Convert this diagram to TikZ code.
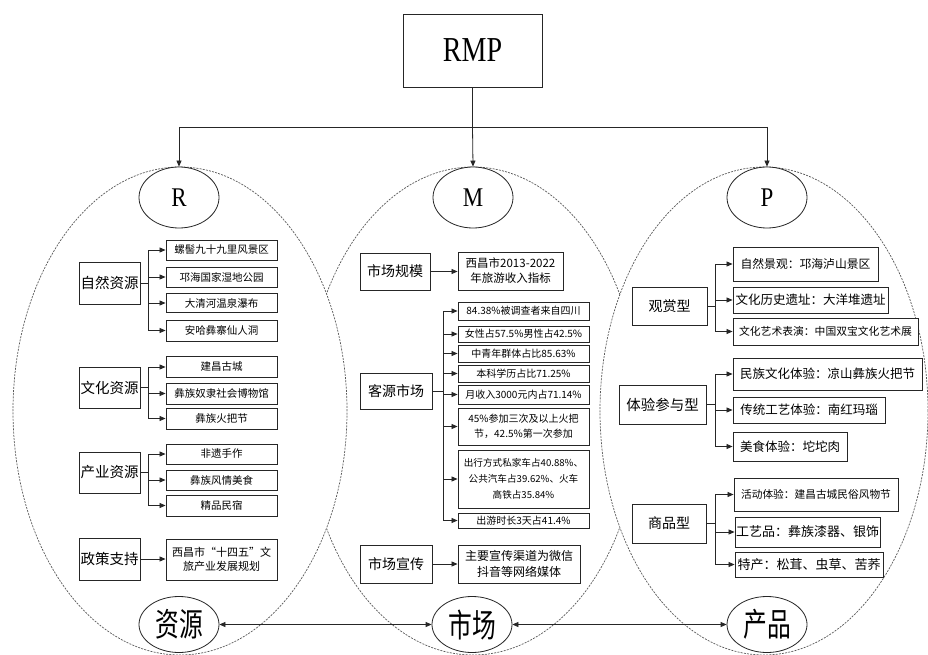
\documentclass[tikz,border=0pt]{standalone}
\usepackage{fontspec}
\setmainfont{Liberation Serif}
\newfontfamily\cjk{Noto Sans CJK SC}
\usetikzlibrary{arrows.meta,shapes.geometric}
\begin{document}
\begin{tikzpicture}[x=1pt,y=-1pt,
  box/.style={draw=black!85, line width=0.9pt, fill=white, inner sep=0pt, align=center},
  mainbox/.style={box, font=\cjk\fontsize{14.5}{16}\selectfont},
  itembox/.style={box, font=\cjk\fontsize{10.5}{13}\selectfont},
  midbox/.style={box, font=\cjk\fontsize{10}{12}\selectfont, minimum width=131pt},
  rbox/.style={box, font=\cjk\fontsize{12.5}{14}\selectfont},
  ln/.style={line width=0.8pt, draw=black!85},
  arr/.style={ln, -{Triangle[length=6pt,width=5pt]}},
  dbl/.style={ln, {Triangle[length=6pt,width=5pt]}-{Triangle[length=6pt,width=5pt]}},
  bigell/.style={draw=black!65, dash pattern=on 2pt off 1.2pt, line width=0.7pt, fill=white},
  oval/.style={draw=black!85, line width=0.8pt, fill=white, ellipse, inner sep=0pt, minimum width=80pt}
]
\useasboundingbox (0,0) rectangle (928,655);
\fill[white] (0,0) rectangle (928,655);

% big dashed ellipses (middle first, then left and right on top)
\draw[bigell] (473,411) ellipse [x radius=167pt, y radius=244pt];
\draw[bigell] (180,411) ellipse [x radius=167pt, y radius=244pt];
\draw[bigell] (764,411) ellipse [x radius=164pt, y radius=244pt];

% top
\node[box, minimum width=139pt, minimum height=73pt, font=\fontsize{35}{37}\selectfont] (rmp) at (472.5,50.5) {\scalebox{0.8}[1]{RMP}};
\node[oval, minimum height=61pt, font=\fontsize{27}{29}\selectfont] (R) at (179,197.5) {\scalebox{0.85}[1]{R}};
\node[oval, minimum height=61pt, font=\fontsize{27}{29}\selectfont] (M) at (473,197.5) {\scalebox{0.85}[1]{M}};
\node[oval, minimum height=61pt, font=\fontsize{27}{29}\selectfont] (P) at (767,197.5) {\scalebox{0.85}[1]{P}};
\coordinate (jR) at (179,127);
\coordinate (jM) at (472.5,127);
\coordinate (jP) at (767,127);
\draw[ln] (rmp.south) -- (jM);
\draw[ln] (jR) -- (jP);
\draw[arr] (jR) -- (R.north);
\draw[arr] (jM) -- (M.north);
\draw[arr] (jP) -- (P.north);

% bottom
\node[oval, minimum height=56pt, font=\cjk\fontsize{25}{27}\selectfont] (zy) at (179,624.5) {\scalebox{0.95}[1.3]{资源}};
\node[oval, minimum height=56pt, font=\cjk\fontsize{25}{27}\selectfont] (sc) at (472,624.5) {\scalebox{0.95}[1.3]{市场}};
\node[oval, minimum height=56pt, font=\cjk\fontsize{25}{27}\selectfont] (cp) at (767,624.5) {\scalebox{0.95}[1.3]{产品}};
\draw[dbl] (zy.east) -- (sc.west);
\draw[dbl] (sc.east) -- (cp.west);

% ===== R column =====
\node[mainbox, minimum width=61pt, minimum height=42pt] (nat) at (109.5,283) {自然资源};
\node[itembox, minimum width=111pt, minimum height=20pt] (n1) at (221.5,250) {螺髻九十九里风景区};
\node[itembox, minimum width=111pt, minimum height=20pt] (n2) at (221.5,277) {邛海国家湿地公园};
\node[itembox, minimum width=111pt, minimum height=19pt] (n3) at (221.5,303) {大清河温泉瀑布};
\node[itembox, minimum width=111pt, minimum height=21pt] (n4) at (221.5,330.5) {安哈彝寨仙人洞};
\foreach \t in {n1,n2,n3,n4} \draw[arr] (nat.east) -- ++(8,0) |- (\t.west);

\node[mainbox, minimum width=61pt, minimum height=41pt] (cul) at (109.5,387.5) {文化资源};
\node[itembox, minimum width=111pt, minimum height=21pt] (c1) at (221.5,367) {建昌古城};
\node[itembox, minimum width=111pt, minimum height=21pt] (c2) at (221.5,393.5) {彝族奴隶社会博物馆};
\node[itembox, minimum width=111pt, minimum height=21pt] (c3) at (221.5,418.5) {彝族火把节};
\foreach \t in {c1,c2,c3} \draw[arr] (cul.east) -- ++(8,0) |- (\t.west);

\node[mainbox, minimum width=61pt, minimum height=41pt] (ind) at (109.5,472.5) {产业资源};
\node[itembox, minimum width=111pt, minimum height=20pt] (i1) at (221.5,454) {非遗手作};
\node[itembox, minimum width=111pt, minimum height=20pt] (i2) at (221.5,480) {彝族风情美食};
\node[itembox, minimum width=111pt, minimum height=21pt] (i3) at (221.5,505.5) {精品民宿};
\foreach \t in {i1,i2,i3} \draw[arr] (ind.east) -- ++(8,0) |- (\t.west);

\node[mainbox, minimum width=61pt, minimum height=42pt] (pol) at (109.5,559) {政策支持};
\node[box, font=\cjk\fontsize{11}{14}\selectfont, minimum width=111pt, minimum height=41pt] (p1) at (221.5,559.5) {西昌市“十四五”文\\旅产业发展规划};
\draw[arr] (pol.east) -- (pol.east -| p1.west);

% ===== M column =====
\node[box, font=\cjk\fontsize{14}{16}\selectfont, minimum width=70pt, minimum height=37pt] (scale) at (395,271.5) {市场规模};
\node[box, font=\cjk\fontsize{11.5}{15}\selectfont, minimum width=105pt, minimum height=38pt] (s1) at (510.5,271) {西昌市2013-2022\\年旅游收入指标};
\draw[arr] (scale.east) -- (scale.east -| s1.west);

\node[box, font=\cjk\fontsize{14}{16}\selectfont, minimum width=72pt, minimum height=36pt] (src) at (396,391) {客源市场};
\node[midbox, minimum height=18pt] (m1) at (523.5,311) {84.38\%被调查者来自四川};
\node[midbox, minimum height=16pt] (m2) at (523.5,334) {女性占57.5\%男性占42.5\%};
\node[midbox, minimum height=17pt] (m3) at (523.5,353.5) {中青年群体占比85.63\%};
\node[midbox, minimum height=17pt] (m4) at (523.5,373.5) {本科学历占比71.25\%};
\node[midbox, minimum height=19pt] (m5) at (523.5,394.5) {月收入3000元内占71.14\%};
\node[midbox, minimum height=37pt, font=\cjk\fontsize{10}{15}\selectfont] (m6) at (523.5,426.5) {45\%参加三次及以上火把\\节，42.5\%第一次参加};
\node[midbox, minimum height=58pt, font=\cjk\fontsize{9.6}{16}\selectfont] (m7) at (523.5,479) {出行方式私家车占40.88\%、\\公共汽车占39.62\%、火车\\高铁占35.84\%};
\node[midbox, minimum height=15pt] (m8) at (523.5,520.5) {出游时长3天占41.4\%};
\foreach \t in {m1,m2,m3,m4,m5,m6,m7,m8} \draw[arr] (src.east) -- ++(11,0) |- (\t.west);

\node[box, font=\cjk\fontsize{14}{16}\selectfont, minimum width=72pt, minimum height=38pt] (pro) at (396,564) {市场宣传};
\node[box, font=\cjk\fontsize{12}{16}\selectfont, minimum width=122pt, minimum height=38pt] (pr1) at (519,564) {主要宣传渠道为微信\\抖音等网络媒体};
\draw[arr] (pro.east) -- (pro.east -| pr1.west);

% ===== P column =====
\node[box, font=\cjk\fontsize{14}{16}\selectfont, minimum width=75pt, minimum height=38pt] (view) at (669.5,306) {观赏型};
\node[rbox, minimum width=145pt, minimum height=34pt, font=\cjk\fontsize{11.8}{14}\selectfont] (v1) at (805.5,264) {自然景观：邛海泸山景区};
\node[rbox, minimum width=155pt, minimum height=26pt] (v2) at (810.5,300) {文化历史遗址：大洋堆遗址};
\node[rbox, minimum width=185pt, minimum height=27pt, font=\cjk\fontsize{10.8}{13}\selectfont] (v3) at (825.5,331.5) {文化艺术表演：中国双宝文化艺术展};
\foreach \t in {v1,v2,v3} \draw[arr] (view.east) -- ++(8,0) |- (\t.west);

\node[box, font=\cjk\fontsize{14.5}{16}\selectfont, minimum width=87pt, minimum height=39pt] (exp) at (662.5,404.5) {体验参与型};
\node[rbox, minimum width=189pt, minimum height=32pt] (e1) at (827.5,374) {民族文化体验：凉山彝族火把节};
\node[rbox, minimum width=152pt, minimum height=26pt] (e2) at (809,410) {传统工艺体验：南红玛瑙};
\node[rbox, minimum width=114pt, minimum height=29pt] (e3) at (790,446.5) {美食体验：坨坨肉};
\foreach \t in {e1,e2,e3} \draw[arr] (exp.east) -- ++(9,0) |- (\t.west);

\node[box, font=\cjk\fontsize{14}{16}\selectfont, minimum width=74pt, minimum height=39pt] (prod) at (669,523.5) {商品型};
\node[rbox, minimum width=164pt, minimum height=33pt, font=\cjk\fontsize{10.7}{13}\selectfont] (g1) at (816,494.5) {活动体验：建昌古城民俗风物节};
\node[rbox, minimum width=145pt, minimum height=30pt, font=\cjk\fontsize{13}{15}\selectfont] (g2) at (807.5,532) {工艺品：彝族漆器、银饰};
\node[rbox, minimum width=148pt, minimum height=25pt, font=\cjk\fontsize{13}{15}\selectfont] (g3) at (809,564.5) {特产：松茸、虫草、苦荞};
\foreach \t in {g1,g2,g3} \draw[arr] (prod.east) -- ++(9,0) |- (\t.west);
\end{tikzpicture}
\end{document}
